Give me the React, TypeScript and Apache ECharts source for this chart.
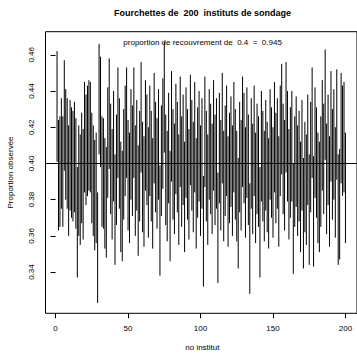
import React, { useEffect, useRef } from "react";
import * as echarts from "echarts";

const TITLE = "Fourchettes de  200  instituts de sondage";
const SUBTITLE = "proportion de recouvrement de  0.4  =  0.945";
const X_NAME = "no institut";
const Y_NAME = "Proportion observée";
const X_TICKS = [0, 50, 100, 150, 200];
const Y_TICKS = [0.34, 0.36, 0.38, 0.4, 0.42, 0.44, 0.46];
const TRUE_P = 0.4;

const lows = [
  0.401, 0.363, 0.365, 0.375, 0.365, 0.396, 0.38, 0.375, 0.36, 0.374,
  0.37, 0.368, 0.373, 0.364, 0.337, 0.36, 0.355, 0.367, 0.358, 0.384,
  0.377, 0.382, 0.385, 0.384, 0.367, 0.36, 0.352, 0.356, 0.323, 0.405,
  0.398, 0.365, 0.364, 0.353, 0.348, 0.381, 0.397, 0.372, 0.358, 0.379,
  0.344, 0.366, 0.392, 0.375, 0.351, 0.346, 0.369, 0.382, 0.392, 0.363,
  0.356, 0.38, 0.371, 0.392, 0.36, 0.374, 0.349, 0.368, 0.395, 0.362,
  0.354, 0.385, 0.377, 0.359, 0.382, 0.368, 0.353, 0.389, 0.373, 0.364,
  0.38, 0.338, 0.371, 0.386, 0.406, 0.366, 0.357, 0.378, 0.346, 0.39,
  0.369, 0.361, 0.383, 0.373, 0.355, 0.387, 0.365, 0.377, 0.351, 0.381,
  0.369, 0.358, 0.388, 0.374, 0.362, 0.384, 0.353, 0.37, 0.379, 0.36,
  0.375, 0.332, 0.387, 0.368, 0.355, 0.38, 0.372, 0.361, 0.385, 0.366,
  0.375, 0.334, 0.378, 0.363, 0.389, 0.357, 0.371, 0.382, 0.354, 0.367,
  0.376, 0.36, 0.384, 0.369, 0.357, 0.342, 0.373, 0.363, 0.387, 0.378,
  0.359, 0.381, 0.366, 0.328, 0.375, 0.361, 0.382, 0.356, 0.372, 0.365,
  0.337, 0.379, 0.368, 0.357, 0.374, 0.362, 0.353, 0.38, 0.37, 0.359,
  0.384, 0.367, 0.375, 0.354, 0.382, 0.394, 0.372, 0.363, 0.395, 0.379,
  0.358, 0.37, 0.379, 0.339, 0.365, 0.376, 0.36, 0.368, 0.351, 0.374,
  0.342, 0.362, 0.355, 0.377, 0.344, 0.373, 0.392, 0.343, 0.381, 0.37,
  0.356, 0.351, 0.365, 0.385, 0.372, 0.402, 0.361, 0.377, 0.354, 0.39,
  0.369, 0.38, 0.359, 0.391, 0.344, 0.347, 0.389, 0.382, 0.384, 0.356,
];

const highs = [
  0.462, 0.424, 0.426, 0.436, 0.426, 0.457, 0.441, 0.436, 0.421, 0.435,
  0.431, 0.429, 0.434, 0.425, 0.398, 0.421, 0.416, 0.428, 0.419, 0.445,
  0.438, 0.443, 0.446, 0.445, 0.428, 0.421, 0.413, 0.417, 0.384, 0.466,
  0.459, 0.426, 0.425, 0.414, 0.409, 0.442, 0.458, 0.433, 0.419, 0.44,
  0.405, 0.427, 0.453, 0.436, 0.412, 0.407, 0.43, 0.443, 0.453, 0.424,
  0.417, 0.441, 0.432, 0.453, 0.421, 0.435, 0.41, 0.429, 0.456, 0.423,
  0.415, 0.446, 0.438, 0.42, 0.443, 0.429, 0.414, 0.45, 0.434, 0.425,
  0.441, 0.399, 0.432, 0.447, 0.467, 0.427, 0.418, 0.439, 0.407, 0.451,
  0.43, 0.422, 0.444, 0.434, 0.416, 0.448, 0.426, 0.438, 0.412, 0.442,
  0.43, 0.419, 0.449, 0.435, 0.423, 0.445, 0.414, 0.431, 0.44, 0.421,
  0.436, 0.393, 0.448, 0.429, 0.416, 0.441, 0.433, 0.422, 0.446, 0.427,
  0.436, 0.395, 0.439, 0.424, 0.45, 0.418, 0.432, 0.443, 0.415, 0.428,
  0.437, 0.421, 0.445, 0.43, 0.418, 0.403, 0.434, 0.424, 0.448, 0.439,
  0.42, 0.442, 0.427, 0.389, 0.436, 0.422, 0.443, 0.417, 0.433, 0.426,
  0.398, 0.44, 0.429, 0.418, 0.435, 0.423, 0.414, 0.441, 0.431, 0.42,
  0.445, 0.428, 0.436, 0.415, 0.443, 0.455, 0.433, 0.424, 0.456, 0.44,
  0.419, 0.431, 0.44, 0.4, 0.426, 0.437, 0.421, 0.429, 0.412, 0.435,
  0.403, 0.423, 0.416, 0.438, 0.405, 0.434, 0.453, 0.404, 0.442, 0.431,
  0.417, 0.412, 0.426, 0.446, 0.433, 0.463, 0.422, 0.438, 0.415, 0.451,
  0.43, 0.441, 0.42, 0.452, 0.405, 0.408, 0.45, 0.443, 0.445, 0.417,
];

const institutes = lows.map((_, k) => k + 1);

const FONT = "'Liberation Sans', Arial, Helvetica, sans-serif";

export default function App() {
  const ref = useRef<HTMLDivElement>(null);

  useEffect(() => {
    document.body.style.margin = "0";
    const chart = echarts.init(ref.current!, null, { renderer: "svg" });
    const data = institutes.map((id, k) => [id, lows[k], highs[k]]);

    chart.setOption({
      animation: false,
      backgroundColor: "#ffffff",
      textStyle: { fontFamily: FONT },
      grid: {
        left: 45.5,
        top: 31.7,
        width: 313.8,
        height: 281.6,
        show: true,
        borderColor: "#000",
        borderWidth: 1,
        backgroundColor: "transparent",
      },
      xAxis: {
        type: "value",
        min: -6.96,
        max: 207.96,
        splitLine: { show: false },
        axisLine: { show: false },
        axisTick: {
          show: true,
          customValues: X_TICKS,
          length: 5,
          lineStyle: { color: "#000", width: 1 },
        },
        axisLabel: {
          customValues: X_TICKS,
          color: "#000",
          fontSize: 8,
          fontFamily: FONT,
          margin: 11,
        },
      },
      yAxis: {
        type: "value",
        min: 0.31724,
        max: 0.47276,
        splitLine: { show: false },
        axisLine: { show: false },
        axisTick: {
          show: true,
          customValues: Y_TICKS,
          length: 5,
          lineStyle: { color: "#000", width: 1 },
        },
        axisLabel: {
          customValues: Y_TICKS,
          color: "#000",
          fontSize: 8,
          fontFamily: FONT,
          rotate: 90,
          margin: 10,
          formatter: (v: number) => v.toFixed(2),
        },
      },
      graphic: [
        {
          type: "text",
          x: 202.4,
          y: 12.5,
          style: {
            text: TITLE,
            fontSize: 9,
            fontWeight: "bold",
            fontFamily: FONT,
            fill: "#000",
            textAlign: "center",
            textVerticalAlign: "middle",
          },
        },
        {
          type: "text",
          x: 202.6,
          y: 42,
          z: 100,
          style: {
            text: SUBTITLE,
            fontSize: 8,
            fontFamily: FONT,
            fill: "#000",
            textAlign: "center",
            textVerticalAlign: "middle",
          },
        },
        {
          type: "text",
          x: 202.4,
          y: 347,
          style: {
            text: X_NAME,
            fontSize: 8,
            fontFamily: FONT,
            fill: "#000",
            textAlign: "center",
            textVerticalAlign: "middle",
          },
        },
        {
          type: "text",
          x: 10,
          y: 172.5,
          rotation: Math.PI / 2,
          style: {
            text: Y_NAME,
            fontSize: 8,
            fontFamily: FONT,
            fill: "#000",
            textAlign: "center",
            textVerticalAlign: "middle",
          },
        },
      ],
      series: [
        {
          type: "custom",
          data,
          encode: { x: 0, y: [1, 2] },
          renderItem: (_params: any, api: any) => {
            const x = api.value(0);
            const p1 = api.coord([x, api.value(1)]);
            const p2 = api.coord([x, api.value(2)]);
            return {
              type: "line",
              shape: { x1: p1[0], y1: p1[1], x2: p2[0], y2: p2[1] },
              style: { stroke: "#000", lineWidth: 1 },
            };
          },
          markLine: {
            silent: true,
            symbol: "none",
            label: { show: false },
            lineStyle: { color: "#000", width: 1, type: "solid" },
            data: [{ yAxis: TRUE_P }],
          },
        },
      ],
    });

    return () => chart.dispose();
  }, []);

  return <div ref={ref} style={{ width: 357, height: 354 }} />;
}
